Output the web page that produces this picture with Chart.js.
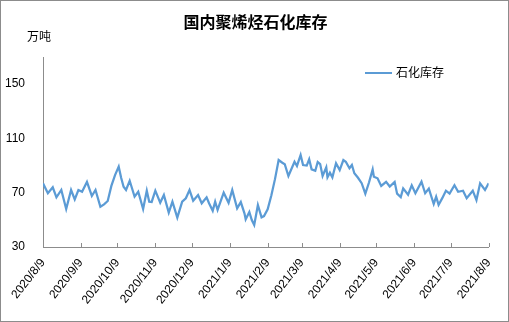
<!DOCTYPE html>
<html>
<head>
<meta charset="utf-8">
<script src="https://cdn.jsdelivr.net/npm/chart.js@4"></script>
<style>
  html, body { margin: 0; padding: 0; background: #fff; }
  #box { position: relative; width: 507px; height: 320px; border: 1px solid #8c8c8c; overflow: hidden;
         font-family: "Noto Sans CJK SC", "Liberation Sans", sans-serif; color: #000; }
  #cv { position: absolute; left: -1px; top: -1px; }
  .title { position: absolute; left: 0; width: 509px; top: 9px; text-align: center; font-size: 16px; font-weight: bold; line-height: 22px; }
  .unit { position: absolute; left: 26px; top: 27px; font-size: 12px; line-height: 16px; }
  .legend { position: absolute; left: 364px; top: 63px; font-size: 12px; line-height: 16px; }
  .legend i { display: inline-block; width: 27px; height: 2px; background: #5b9bd5; vertical-align: middle; margin-right: 4px; position: relative; top: -1px; }
</style>
</head>
<body>
<div id="box">
  <canvas id="cv" width="509" height="322"></canvas>
  <div class="title">国内聚烯烃石化库存</div>
  <div class="unit">万吨</div>
  <div class="legend"><i></i>石化库存</div>
</div>
<script>
// 石化库存（万吨），按距 2020/8/9 的天数记录
const startDate = '2020-08-09';
const dayOffsets = [
  0, 4, 8, 11, 15, 19, 23, 26, 29, 32, 36, 40, 43, 47, 50, 53, 56, 59, 62, 64,
  66, 68, 71, 75, 78, 82, 85, 87, 89, 92, 96, 99, 103, 106, 110, 114, 117, 120, 123, 127,
  130, 134, 136, 139, 141, 143, 148, 152, 155, 159, 162, 165, 166, 169, 171, 173, 176, 179, 181, 184,
  187, 190, 193, 196, 198, 201, 206, 208, 211, 213, 216, 218, 220, 223, 225, 227, 229, 232, 233, 235,
  237, 240, 243, 246, 248, 251, 253, 255, 258, 261, 264, 267, 270, 271, 274, 277, 281, 284, 288, 290,
  293, 295, 299, 302, 305, 310, 313, 316, 320, 322, 324, 327, 330, 333, 337, 340, 344, 347, 352, 355,
  358, 362, 365
];
const stocks = [
  76.9, 69.6, 74.0, 66.6, 72.0, 58.0, 72.0, 65.1, 72.0, 70.7, 77.9, 67.6, 72.0, 59.7, 61.4, 63.9, 75.0, 83.0, 89.2, 81.0,
  74.4, 72.0, 78.8, 67.1, 70.7, 58.0, 71.5, 63.4, 63.2, 71.5, 62.6, 68.3, 55.3, 63.4, 51.6, 63.4, 65.9, 72.0, 64.1, 68.3,
  62.2, 66.6, 62.2, 56.7, 63.4, 57.3, 70.0, 62.6, 72.0, 58.5, 63.1, 54.8, 50.4, 55.8, 49.9, 46.2, 60.9, 51.9, 52.8, 57.8,
  68.0, 80.0, 94.1, 92.1, 91.0, 82.3, 92.8, 89.7, 97.8, 90.4, 90.0, 94.6, 87.2, 86.2, 92.6, 91.1, 82.3, 88.7, 81.3, 84.7,
  81.3, 91.7, 86.7, 94.1, 92.8, 88.0, 90.4, 84.3, 81.0, 77.0, 69.3, 77.5, 87.2, 81.8, 80.6, 75.0, 78.0, 74.6, 78.0, 69.3,
  66.8, 73.2, 68.5, 75.4, 69.6, 78.1, 69.6, 73.0, 61.7, 67.0, 61.0, 66.0, 71.5, 69.3, 75.5, 70.7, 71.5, 65.9, 71.5, 64.6,
  76.9, 72.0, 76.9
];
const monthLabels = ['2020/8/9', '2020/9/9', '2020/10/9', '2020/11/9', '2020/12/9', '2021/1/9', '2021/2/9',
                     '2021/3/9', '2021/4/9', '2021/5/9', '2021/6/9', '2021/7/9', '2021/8/9'];
const yTicks = [30, 70, 110, 150];

// 标签日期换算成天数
const DAY = 86400000;
const t0 = Date.UTC(2020, 7, 9);
const monthOffsets = monthLabels.map(s => {
  const p = s.split('/').map(Number);
  return Math.round((Date.UTC(p[0], p[1] - 1, p[2]) - t0) / DAY);
});

// x 轴刻度线朝内
const innerTicks = {
  id: 'innerTicks',
  afterDraw(chart) {
    const c = chart.ctx, xs = chart.scales.x, a = chart.chartArea;
    c.save();
    c.strokeStyle = '#8c8c8c'; c.lineWidth = 1;
    monthOffsets.forEach(d => {
      const x = Math.round(xs.getPixelForValue(d)) + 0.5;
      c.beginPath(); c.moveTo(x, a.bottom); c.lineTo(x, a.bottom - 4); c.stroke();
    });
    c.restore();
  }
};

const tickFont = { family: "'Liberation Sans', Arial, sans-serif", size: 12 };

new Chart(document.getElementById('cv'), {
  type: 'line',
  data: {
    datasets: [{
      label: '石化库存',
      data: dayOffsets.map((d, i) => ({ x: d, y: stocks[i] })),
      borderColor: '#5b9bd5', borderWidth: 2.25, pointRadius: 0, tension: 0, fill: false
    }]
  },
  plugins: [innerTicks],
  options: {
    responsive: false, animation: false, devicePixelRatio: 1,
    layout: { padding: { top: 57, right: 18, left: 0, bottom: 0 } },
    plugins: { legend: { display: false }, tooltip: { enabled: false }, title: { display: false } },
    scales: {
      x: {
        type: 'linear', min: 0, max: 365,
        afterBuildTicks: s => { s.ticks = monthOffsets.map(v => ({ value: v })); },
        afterFit: s => { s.height = 75; },
        ticks: {
          color: '#000', font: tickFont, padding: 9, autoSkip: false,
          minRotation: 52, maxRotation: 52,
          callback: (v, i) => monthLabels[i]
        },
        grid: { display: false, drawTicks: false },
        border: { display: true, color: '#8c8c8c', width: 1 }
      },
      y: {
        min: 30, max: 170,
        afterBuildTicks: s => { s.ticks = yTicks.map(v => ({ value: v })); },
        afterFit: s => { s.width = 43; },
        ticks: { color: '#000', font: tickFont, padding: 18 },
        grid: { display: false, drawTicks: false },
        border: { display: true, color: '#8c8c8c', width: 1 }
      }
    }
  }
});
</script>
</body>
</html>
